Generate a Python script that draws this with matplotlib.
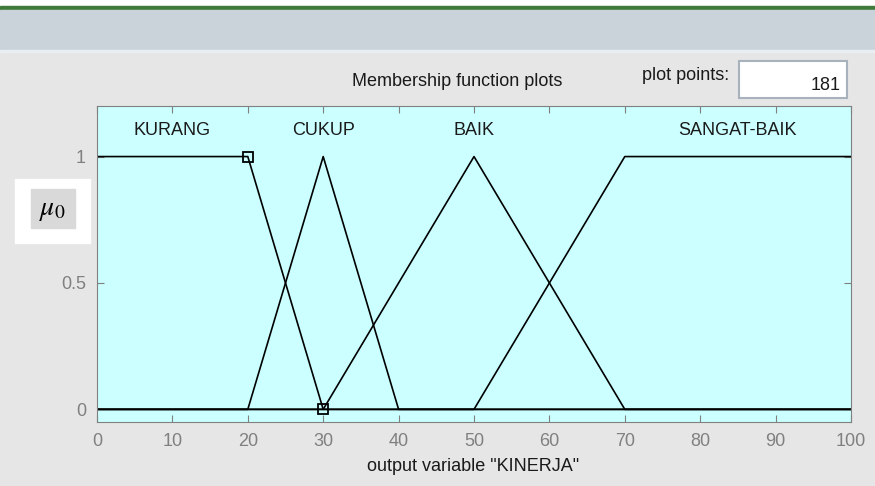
import matplotlib.pyplot as plt
import matplotlib.patches as patches

plt.rcParams['font.family'] = ['Liberation Sans', 'DejaVu Sans']
plt.rcParams['mathtext.fontset'] = 'stix'

# Data ---------------------------------------------------
mf_names = ['KURANG', 'CUKUP', 'BAIK', 'SANGAT-BAIK']
mf_x = [[0, 0, 20, 30, 100],
        [0, 20, 30, 40, 100],
        [0, 30, 50, 70, 100],
        [0, 50, 70, 100]]
mf_y = [[1, 1, 1, 0, 0],
        [0, 0, 1, 0, 0],
        [0, 0, 1, 0, 0],
        [0, 0, 1, 1]]
label_x = [10, 30, 50, 85]
sel_x = [20, 30]
sel_y = [1, 0]
x_ticks = [0, 10, 20, 30, 40, 50, 60, 70, 80, 90, 100]
y_ticks = [0, 0.5, 1]
y_ticklabels = ['0', '0.5', '1']

W, H = 875, 486
fig = plt.figure(figsize=(W / 100, H / 100), dpi=100)
fig.patch.set_facecolor('#e6e6e6')

def px(x, y, w, h):
    # pixel box (top-left origin) -> figure fraction
    return [x / W, 1 - (y + h) / H, w / W, h / H]

# window chrome ------------------------------------------
bg = fig.add_axes([0, 0, 1, 1])
bg.set_xlim(0, W)
bg.set_ylim(H, 0)
bg.axis('off')
bg.add_patch(patches.Rectangle((0, 0), W, 6, color='white'))
bg.add_patch(patches.Rectangle((0, 6), W, 4, color='#3f7a3a'))
bg.add_patch(patches.Rectangle((0, 10), W, 40, color='#cbd3da'))
bg.add_patch(patches.Rectangle((0, 50), W, 2, color='#e9eef2'))
# plot points box
bg.add_patch(patches.Rectangle((739, 61), 108, 37, facecolor='white',
                               edgecolor='#a8b2bc', lw=1.5))
bg.text(841, 86, '181', ha='right', va='center', fontsize=13, color='#1a1a1a')
bg.text(729, 75, 'plot points:', ha='right', va='center', fontsize=13, color='#1a1a1a')
bg.text(457, 81, 'Membership function plots', ha='center', va='center',
        fontsize=13, color='#1a1a1a')
bg.text(473, 466, 'output variable "KINERJA"', ha='center', va='center',
        fontsize=13, color='#1a1a1a')
# mu box
bg.add_patch(patches.Rectangle((15, 179), 75, 64, color='white'))
bg.add_patch(patches.Rectangle((31, 189), 44, 39, color='#d9d9d9'))
bg.text(52, 210, r'$\mu_0$', ha='center', va='center', fontsize=20, color='black')

# membership plot ----------------------------------------
ax = fig.add_axes(px(97, 106, 754, 316))
ax.set_facecolor('#ccffff')
for xs, ys in zip(mf_x, mf_y):
    ax.plot(xs, ys, color='black', lw=1.2)
ax.plot(sel_x, sel_y, 's', ms=7.5, mfc='none', mec='black', mew=1.3)
for name, lx in zip(mf_names, label_x):
    ax.text(lx, 1.105, name, ha='center', va='center', fontsize=13, color='#1a1a1a')
ax.set_xlim(0, 100)
ax.set_ylim(-0.05, 1.2)
ax.set_xticks(x_ticks)
ax.set_yticks(y_ticks)
ax.set_yticklabels(y_ticklabels)
ax.tick_params(direction='in', length=5, color='#808080', labelcolor='#808080',
               labelsize=13, top=True, right=True, pad=8)
for s in ax.spines.values():
    s.set_color('#808080')

fig.savefig('out.png', dpi=100, facecolor=fig.get_facecolor())
